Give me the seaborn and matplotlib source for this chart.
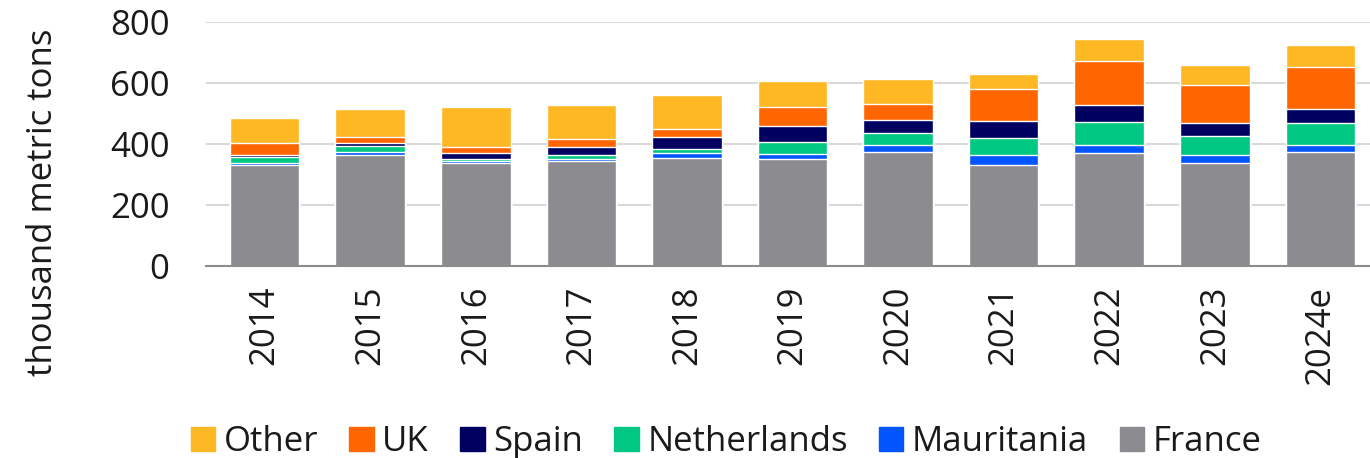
import pandas as pd
import matplotlib.pyplot as plt
import seaborn as sns
from matplotlib.patches import Patch

years = ["2014", "2015", "2016", "2017", "2018", "2019", "2020", "2021", "2022", "2023", "2024e"]
france = [330, 364, 337, 343, 354, 350, 373, 330, 372, 337, 373]
mauritania = [9, 11, 7, 9, 17, 16, 24, 33, 24, 26, 25]
netherlands = [17, 18, 7, 12, 12, 42, 38, 56, 76, 63, 70]
spain = [9, 11, 20, 27, 40, 51, 45, 56, 56, 43, 48]
uk = [37, 20, 20, 25, 27, 63, 52, 105, 144, 123, 137]
other = [82, 91, 131, 111, 110, 84, 80, 50, 71, 66, 72]

# stacking order, bottom to top
series = ["France", "Mauritania", "Netherlands", "Spain", "UK", "Other"]
colors = {
    "France": "#8c8c90",
    "Mauritania": "#0055ff",
    "Netherlands": "#00c882",
    "Spain": "#000060",
    "UK": "#ff6600",
    "Other": "#fdb823",
}

df = pd.DataFrame({"year": years, "France": france, "Mauritania": mauritania,
                   "Netherlands": netherlands, "Spain": spain, "UK": uk, "Other": other})
cum = df[series].cumsum(axis=1)

sns.set_style("white")
plt.rcParams["font.family"] = ["Open Sans", "DejaVu Sans"]
text_color = "#1a1a1a"

fig, ax = plt.subplots(figsize=(13.7, 4.58), dpi=100)
fig.subplots_adjust(left=0.15, right=1.0, top=0.952, bottom=0.419)

# draw cumulative totals from the top series down so each sits on the one below
for name in reversed(series):
    sns.barplot(x=df["year"], y=cum[name], color=colors[name], saturation=1,
                width=0.66, ax=ax, zorder=2)

ax.set_ylim(0, 800)
ax.set_yticks([0, 200, 400, 600, 800])
ax.set_xlim(-0.56, 10.47)
ax.yaxis.grid(True, color="#d9d9d9", linewidth=1.5, zorder=0)
ax.set_axisbelow(True)
for s in ["left", "right", "top"]:
    ax.spines[s].set_visible(False)
ax.spines["bottom"].set_color("#8c8c8c")
ax.spines["bottom"].set_linewidth(1.5)

ax.tick_params(axis="y", length=0, pad=26, labelsize=25, labelcolor=text_color)
ax.tick_params(axis="x", length=0, pad=14, labelsize=25, labelcolor=text_color, rotation=90)
ax.set_xlabel("")
ax.set_ylabel("thousand metric tons", fontsize=25, color=text_color, labelpad=10)
ax.yaxis.set_label_coords(-0.125, 0.26)

handles = [Patch(color=colors[n], label=n) for n in reversed(series)]
fig.legend(handles=handles, loc="lower center", bbox_to_anchor=(0.53, -0.07), ncol=6,
           frameon=False, fontsize=25, handlelength=0.7, handleheight=0.7,
           handletextpad=0.25, columnspacing=0.9, labelcolor=text_color)

fig.savefig("out.png", dpi=100)
plt.close(fig)
